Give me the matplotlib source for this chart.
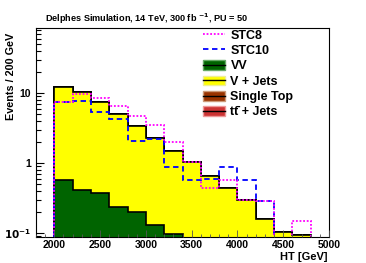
import numpy as np
import matplotlib
matplotlib.use("Agg")
import matplotlib.pyplot as plt
from matplotlib.patches import Patch
from matplotlib.lines import Line2D
from matplotlib.ticker import FixedLocator, LogLocator, FixedFormatter, MultipleLocator

plt.rcParams['font.family'] = ['Liberation Sans', 'DejaVu Sans']
plt.rcParams['font.weight'] = 'bold'

# HT bins, 200 GeV wide
edges = np.arange(2000, 5001, 200)

# backgrounds (stacked)
vv = [0.57, 0.41, 0.37, 0.235, 0.20, 0.131, 0.097, 0, 0, 0, 0, 0, 0, 0, 0]
vjets = [11.73, 9.99, 7.13, 4.77, 3.20, 2.17, 1.38, 1.03, 0.66, 0.44, 0.30, 0.158, 0.104, 0.095, 0]
single_top = [0] * 15
ttjets = [0] * 15

# signals
stc8 = [7.5, 9.7, 8.6, 6.5, 4.7, 3.45, 1.97, 1.03, 0.44, 0.58, 0.30, 0.29, 0, 0.15, 0]
stc10 = [7.5, 7.7, 5.35, 4.25, 2.06, 2.22, 0.89, 0.58, 0.59, 0.89, 0.58, 0.29, 0, 0, 0]

col_vv = '#006400'
col_vj = '#ffff00'
col_st = '#993300'
col_tt = '#cc3333'

base = 1e-3


def pos(v):
    v = np.asarray(v, dtype=float)
    return np.where(v > 0, v, base)


fig = plt.figure(figsize=(3.66, 2.63), dpi=100)
ax = fig.add_axes([0.0984, 0.099, 0.8006, 0.7945])

# cumulative stack, drawn from top down like THStack
s1 = np.asarray(vv, dtype=float)
s2 = s1 + np.asarray(vjets)
s3 = s2 + np.asarray(single_top)
s4 = s3 + np.asarray(ttjets)
for s, c in [(s4, col_tt), (s3, col_st), (s2, col_vj), (s1, col_vv)]:
    ax.stairs(pos(s), edges, baseline=base, fill=True, color=c, lw=0)
    ax.stairs(pos(s), edges, baseline=base, color='black', lw=1.2)

ax.stairs(pos(stc10), edges, baseline=base, color='blue', lw=1.3, ls=(0, (3, 2)))
ax.stairs(pos(stc8), edges, baseline=base, color='magenta', lw=1.3, ls=(0, (1, 1)))

ax.set_yscale('log')
ax.set_xlim(1800, 5000)
ax.set_ylim(0.088, 85)

ax.yaxis.set_major_locator(FixedLocator([0.1, 1, 10]))
ax.yaxis.set_major_formatter(FixedFormatter([r'$\mathbf{10^{-1}}$', '1', '10']))
ax.yaxis.set_minor_locator(LogLocator(base=10, subs=np.arange(2, 10)))
ax.xaxis.set_major_locator(MultipleLocator(500))
ax.xaxis.set_minor_locator(MultipleLocator(100))
ax.tick_params(axis='both', which='both', direction='in', labelsize=7.5)
ax.tick_params(axis='y', which='major', length=6, width=0.8)
ax.tick_params(axis='y', which='minor', length=3.5, width=0.8, labelleft=False)
ax.tick_params(axis='x', which='major', length=5, width=0.6, color='#555555', pad=2)
ax.tick_params(axis='x', which='minor', length=2.5, width=0.6, color='#555555')
for lab in ax.get_xticklabels() + ax.get_yticklabels():
    lab.set_fontweight('bold')
for sp in ax.spines.values():
    sp.set_linewidth(0.8)
ax.set_axisbelow(False)

ax.set_ylabel('Events / 200 GeV', fontsize=7.8, fontweight='bold')
ax.yaxis.set_label_coords(-0.07, 0.77)
ax.set_xlabel('HT [GeV]', fontsize=8, fontweight='bold', ha='right')
ax.xaxis.set_label_coords(0.995, -0.072)

ax.text(0.03, 1.012, r'Delphes Simulation, 14 TeV, 300 fb $^{-1}$, PU = 50',
        transform=ax.transAxes, fontsize=6.6, fontweight='bold', ha='left', va='bottom')

handles = [
    Line2D([], [], color='magenta', lw=1.3, ls=(0, (1, 1))),
    Line2D([], [], color='blue', lw=1.3, ls=(0, (3, 2))),
    (Patch(fc=col_vv, ec='#66aa66'), Line2D([], [], color='black', lw=1)),
    (Patch(fc=col_vj, ec='#eeee99'), Line2D([], [], color='black', lw=1)),
    (Patch(fc=col_st, ec='#cc9977'), Line2D([], [], color='black', lw=1)),
    (Patch(fc=col_tt, ec='#ee9999'), Line2D([], [], color='black', lw=1)),
]
labels = ['STC8', 'STC10', 'VV', 'V + Jets', 'Single Top', 'tt\u0304 + Jets']
ax.legend(handles, labels, loc='upper left', bbox_to_anchor=(0.54, 1.035),
          frameon=False, fontsize=9, handlelength=1.8, handleheight=0.8,
          handletextpad=0.4, labelspacing=0.26, borderaxespad=0.3)

fig.savefig('out.png', dpi=100)
